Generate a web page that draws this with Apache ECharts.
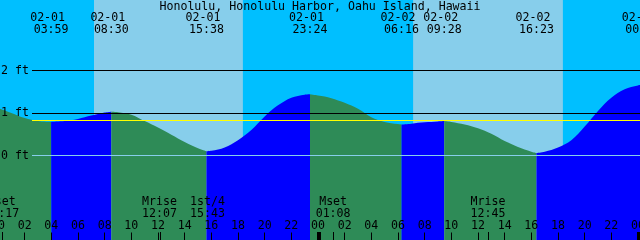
<!DOCTYPE html>
<html><head><meta charset="utf-8">
<script src="https://cdn.jsdelivr.net/npm/echarts@6/dist/echarts.min.js"></script>
<style>html,body{margin:0;padding:0;background:#00BFFF}#c{width:640px;height:240px}</style>
</head><body><div id="c"></div>
<script>
// ---------- data ----------
const chartTitle = 'Honolulu, Honolulu Harbor, Oahu Island, Hawaii';
const extremeDates = ['02-01','02-01','02-01','02-01','02-02','02-02','02-02','02-03'];
const extremeTimes = ['03:59','08:30','15:38','23:24','06:16','09:28','16:23','00:21'];
const extremeFeet  = [0.79, 1.03, 0.10, 1.44, 0.73, 0.81, 0.06, 1.66];
const hourlyHours = [0,1,2,3,4,5,6,7,8,9,10,11,12,13,14,15,16,17,18,19,20,21,22,23,
                     24,25,26,27,28,29,30,31,32,33,34,35,36,37,38,39,40,41,42,43,44,45,46,47,48];
const hourlyFeet  = [1.12,1.00,0.88,0.81,0.79,0.81,0.86,0.94,1.01,1.02,0.96,0.81,0.66,0.49,0.32,0.17,
                     0.11,0.19,0.36,0.60,0.92,1.18,1.36,1.43,
                     1.41,1.35,1.24,1.10,0.90,0.79,0.74,0.75,0.78,0.80,0.79,0.73,0.64,0.51,0.34,0.20,
                     0.09,0.09,0.19,0.36,0.68,1.05,1.36,1.56,1.65];
const moonDates  = ['02-01','02-01','02-01','02-02','02-02'];
const moonTimes  = ['00:17','12:07','15:43','01:08','12:45'];
const moonEvents = ['Mset','Mrise','1st/4','Mset','Mrise'];
const sunriseDates = ['02-01','02-02'];
const sunriseTimes = ['07:12','07:08'];
const sunsetDates  = ['02-01','02-02'];
const sunsetTimes  = ['18:22','18:22'];
const dayBoundaryDates = ['02-02','02-03'];
const depthLines  = [1, 2];
const depthLabels = [0, 1, 2];
const datumFeet = 0;
const mslFeet = 0.82;

// ---------- helpers ----------
const FONT_FAMILY = 'DejaVu Sans Mono';
const FONT_SIZE = 11.6;
const FONT = FONT_SIZE + 'px "' + FONT_FAMILY + '"';
const C_NIGHT = '#00BFFF', C_DAY = '#87CEEB', C_FALL = '#2E8B57', C_RISE = '#0000FF';
function hrs(date, time) {
  const day = parseInt(date.slice(3), 10);
  const [h, m] = time.split(':').map(Number);
  return (day - 1) * 24 + h + m / 60;
}
const extremeHrs = extremeDates.map((d, i) => hrs(d, extremeTimes[i]));
const moonHrs = moonDates.map((d, i) => hrs(d, moonTimes[i]));
const sunriseHrs = sunriseDates.map((d, i) => hrs(d, sunriseTimes[i]));
const sunsetHrs = sunsetDates.map((d, i) => hrs(d, sunsetTimes[i]));
const boundaryHrs = dayBoundaryDates.map(d => hrs(d, '00:00'));

const pts = hourlyHours.map((t, i) => ({t, h: hourlyFeet[i]}))
  .concat(extremeHrs.map((t, i) => ({t, h: extremeFeet[i]})))
  .sort((a, b) => a.t - b.t);
const bounds = [pts[0].t].concat(extremeHrs).concat([pts[pts.length - 1].t]);

const fillSeries = [];
for (let k = 0; k < bounds.length - 1; k++) {
  const a = bounds[k], b = bounds[k + 1];
  const seg = pts.filter(p => p.t >= a - 1e-9 && p.t <= b + 1e-9);
  if (seg.length < 2) continue;
  const rising = seg[seg.length - 1].h > seg[0].h;
  fillSeries.push({
    type: 'line', xAxisIndex: 0, yAxisIndex: 0, z: 2,
    data: seg.map(p => [p.t, p.h]),
    smooth: 0.35, symbol: 'none', silent: true,
    lineStyle: {width: 0, color: rising ? C_RISE : C_FALL},
    areaStyle: {color: rising ? C_RISE : C_FALL, opacity: 1, origin: 'start'}
  });
}

const pad = n => (n < 10 ? '0' : '') + n;

const option = {
  animation: false,
  backgroundColor: C_NIGHT,
  title: {
    text: chartTitle, left: 'center', top: 0.5, padding: 0,
    textStyle: {fontFamily: FONT_FAMILY, fontSize: FONT_SIZE, fontWeight: 'normal', color: '#000'}
  },
  grid: [
    {left: -2, right: 0, top: -14.5, bottom: -0.5, containLabel: false, outerBoundsMode: 'none'},
    {left: 32, right: 0, top: -14.5, bottom: -0.5, containLabel: false, outerBoundsMode: 'none'}
  ],
  xAxis: [
    {type: 'value', gridIndex: 0, position: 'bottom', min: 0, max: 48.15, interval: 2, z: 6,
     axisLine: {show: false, onZero: false}, splitLine: {show: false},
     axisTick: {show: true, inside: true, length: 8, lineStyle: {color: '#000', width: 1}},
     axisLabel: {show: true, inside: true, margin: 8.5, color: '#000', fontFamily: FONT_FAMILY, fontSize: FONT_SIZE,
                 showMinLabel: true, showMaxLabel: true, hideOverlap: false,
                 formatter: v => (Math.abs(v % 2) < 1e-6 ? pad(v % 24) : '')}},
    {type: 'value', gridIndex: 1, min: 0, max: 1, show: false, axisLine: {onZero: false}}
  ],
  yAxis: [
    {type: 'value', gridIndex: 0, min: -2, max: 4, show: false, axisLine: {onZero: false}},
    {type: 'value', gridIndex: 1, min: -2, max: 4, interval: 1, z: 6,
     axisLine: {show: false, onZero: false}, axisTick: {show: false}, splitLine: {show: false},
     axisLabel: {margin: 3, color: '#000', fontFamily: FONT_FAMILY, fontSize: FONT_SIZE, hideOverlap: false,
                 formatter: v => (depthLabels.indexOf(v) >= 0 ? v + ' ft' : '')}}
  ],
  series: [
    {type: 'line', xAxisIndex: 0, yAxisIndex: 0, data: [], z: 0, silent: true,
     markArea: {silent: true, itemStyle: {color: C_DAY, opacity: 1},
                data: sunriseHrs.map((t, i) => [{xAxis: t}, {xAxis: sunsetHrs[i]}])}},
    {type: 'line', xAxisIndex: 1, yAxisIndex: 1, data: [], z: 1, silent: true,
     markLine: {silent: true, symbol: 'none', label: {show: false},
                lineStyle: {color: '#000', width: 1, type: 'solid'},
                data: depthLines.map(d => ({yAxis: d}))}}
  ].concat(fillSeries).concat([
    {type: 'line', xAxisIndex: 1, yAxisIndex: 1, data: [], z: 3, silent: true,
     markLine: {silent: true, symbol: 'none', label: {show: false},
                data: [
                  {yAxis: datumFeet, lineStyle: {color: C_DAY, width: 1, type: 'solid'}},
                  {yAxis: mslFeet, lineStyle: {color: '#FFFF00', width: 1, type: 'solid'}}
                ]}},
    {type: 'custom', xAxisIndex: 0, yAxisIndex: 0, z: 4, silent: true, clip: false,
     data: extremeHrs.map((t, i) => [t, i]),
     renderItem: (params, api) => {
       const i = api.value(1);
       const x = api.coord([api.value(0), 0])[0];
       return {type: 'group', children: [
         {type: 'text', x: x - 3.5, y: 17.5, style: {text: extremeDates[i], font: FONT, fill: '#000', align: 'center', verticalAlign: 'middle'}},
         {type: 'text', x: x, y: 29.5, style: {text: extremeTimes[i], font: FONT, fill: '#000', align: 'center', verticalAlign: 'middle'}}
       ]};
     }},
    {type: 'custom', xAxisIndex: 0, yAxisIndex: 0, z: 4, silent: true, clip: false,
     data: moonHrs.map((t, i) => [t, i]),
     renderItem: (params, api) => {
       const i = api.value(1);
       const x = api.coord([api.value(0), 0])[0];
       const kids = [
         {type: 'text', x: x, y: 201.7, style: {text: moonEvents[i], font: FONT, fill: '#000', align: 'center', verticalAlign: 'middle'}},
         {type: 'text', x: x, y: 213.8, style: {text: moonTimes[i], font: FONT, fill: '#000', align: 'center', verticalAlign: 'middle'}}
       ];
       if (/rise|set/.test(moonEvents[i])) {
         kids.push({type: 'rect', shape: {x: Math.round(x), y: 232, width: 1, height: 8}, style: {fill: '#000'}});
       }
       return {type: 'group', children: kids};
     }},
    {type: 'custom', xAxisIndex: 0, yAxisIndex: 0, z: 4, silent: true, clip: false,
     data: boundaryHrs.map(t => [t, 0]),
     renderItem: (params, api) => {
       const x = api.coord([api.value(0), 0])[0];
       return {type: 'rect', shape: {x: Math.round(x) - 1, y: 232, width: 4, height: 8}, style: {fill: '#000'}};
     }}
  ])
};
const chart = echarts.init(document.getElementById('c'), null, {renderer: 'canvas'});
chart.setOption(option);
</script></body></html>
